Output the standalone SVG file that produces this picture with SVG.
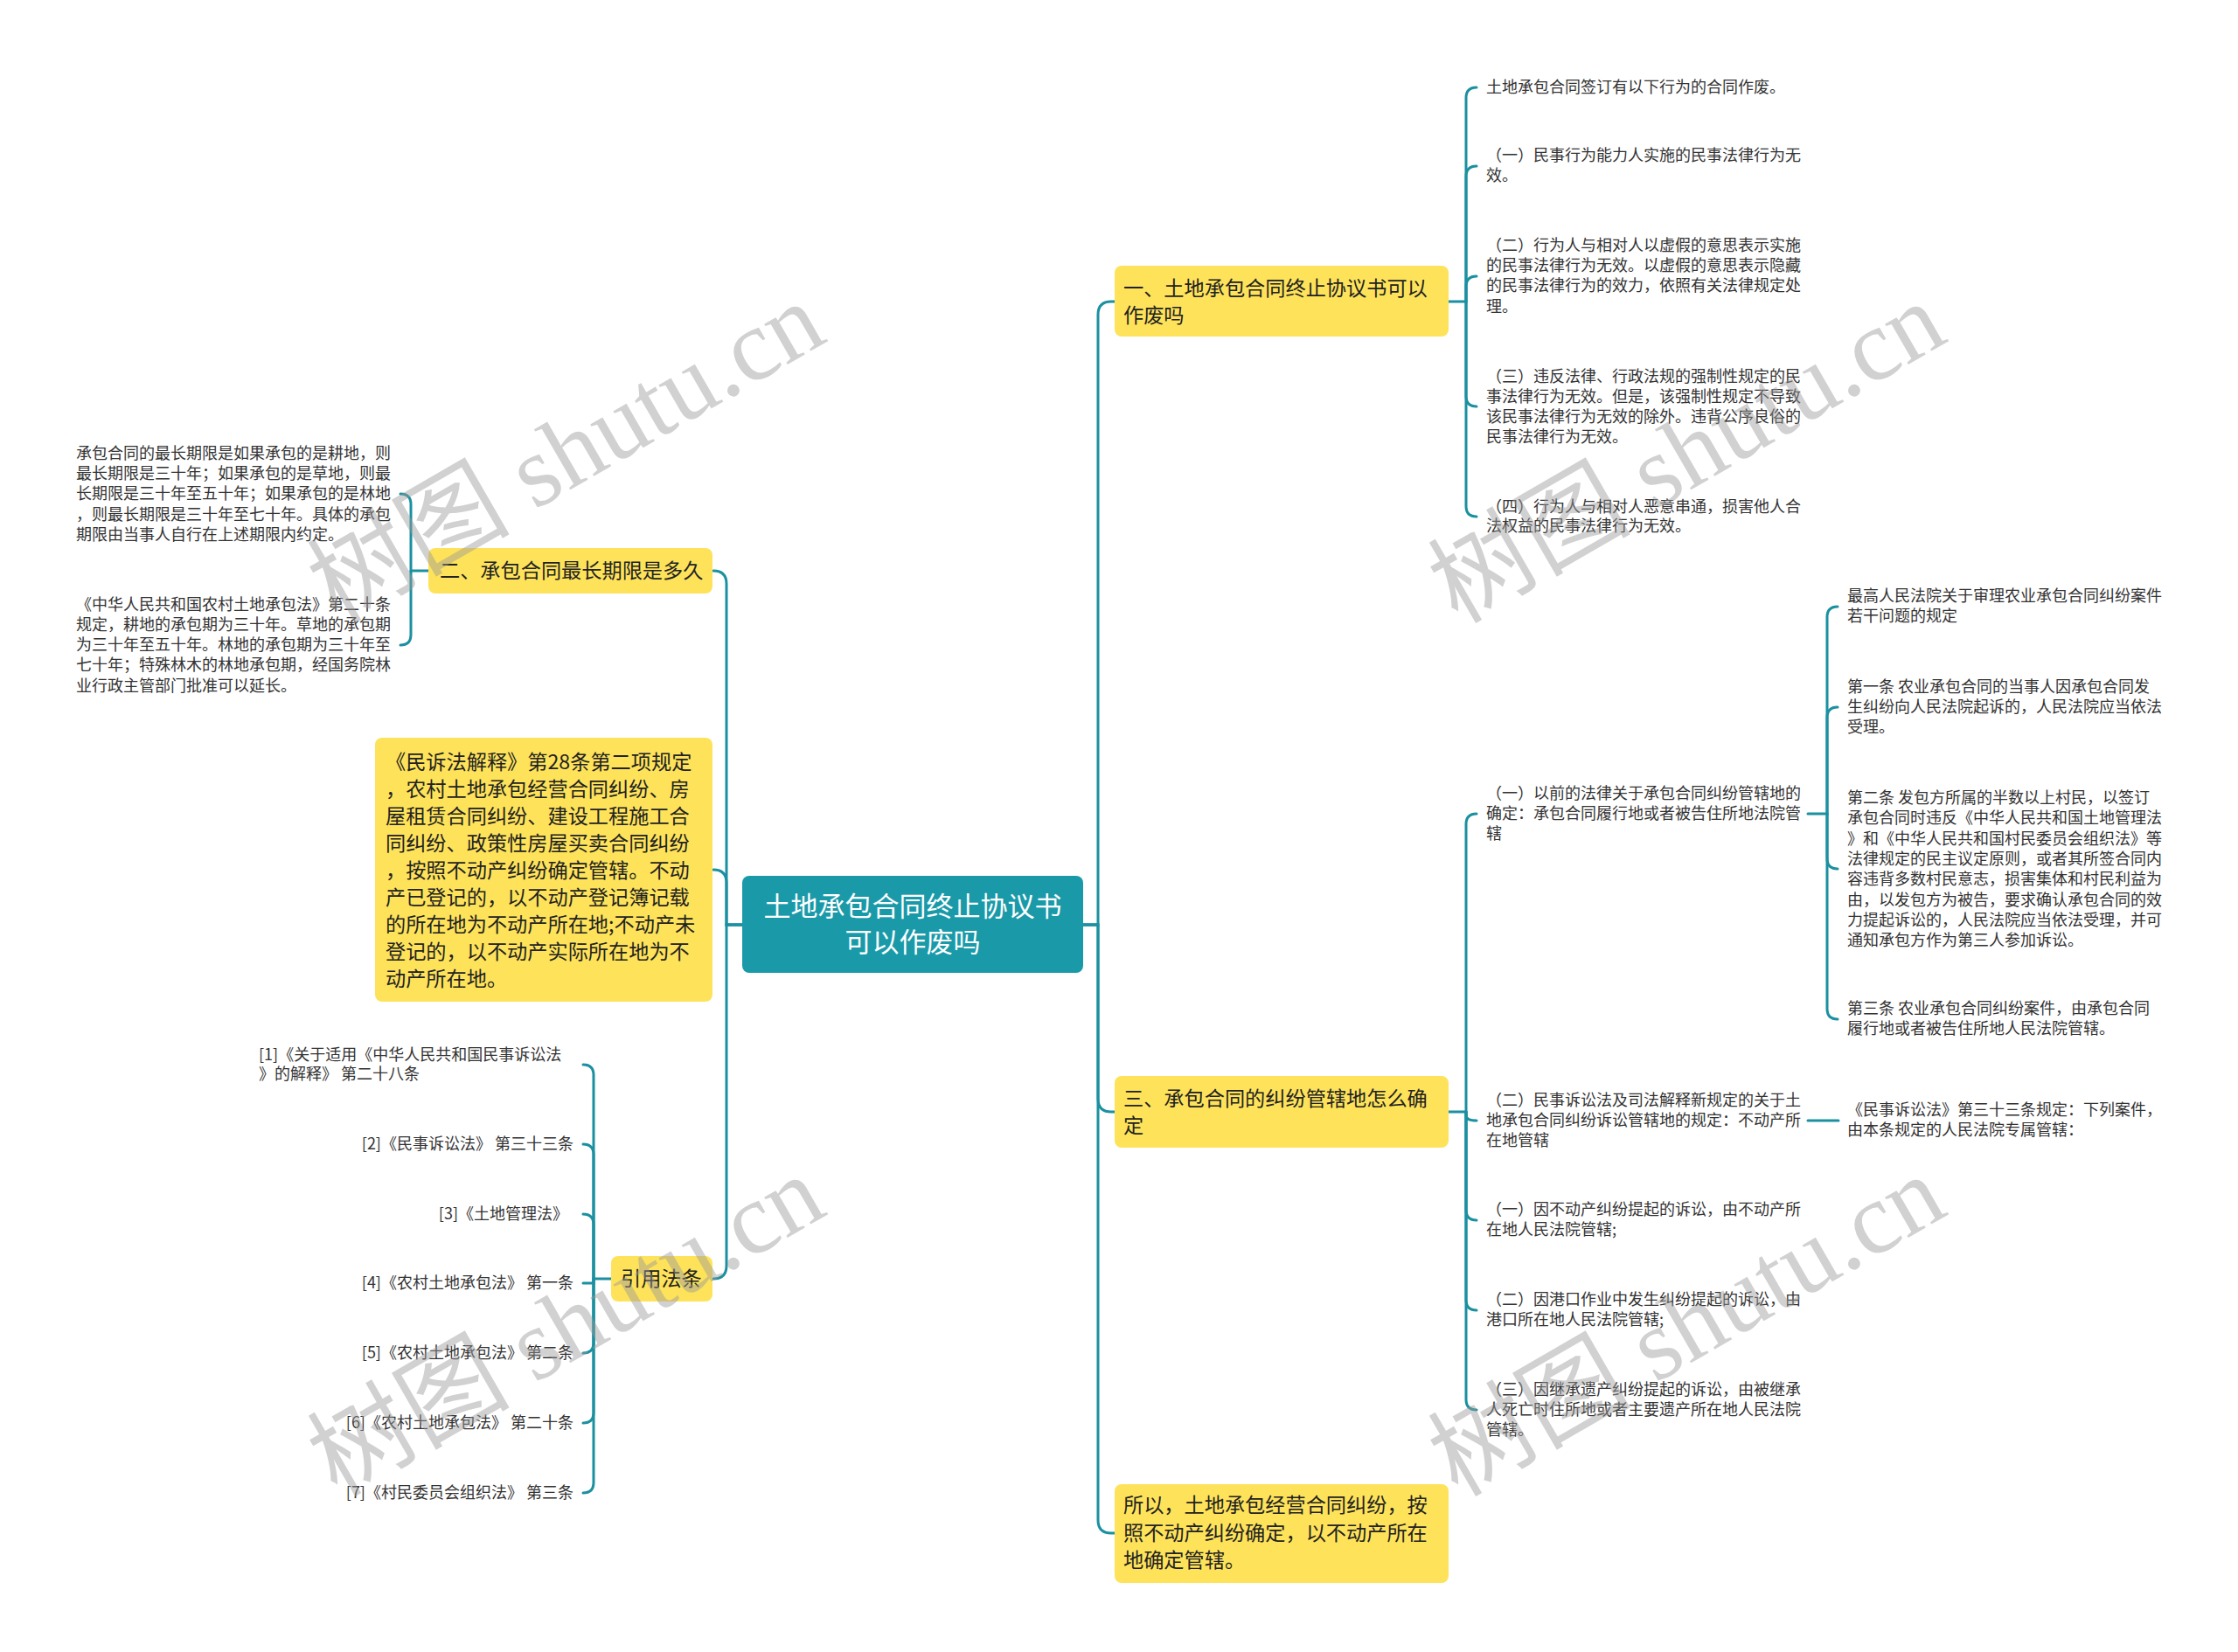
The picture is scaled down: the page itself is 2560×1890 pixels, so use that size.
<svg xmlns="http://www.w3.org/2000/svg" width="2560" height="1890" viewBox="0 0 2560 1890">
<style>
text{font-family:"Noto Sans CJK SC","Noto Sans",sans-serif}
.t{font-size:18px;fill:#333}
.m{font-size:23.2px;fill:#222}
.r{font-size:31px;fill:#fff}
.y{fill:#fee35a}
.root{fill:#1a9aa9}
.c{fill:none;stroke:#1b90a0;stroke-width:3;stroke-linecap:round}
.wm{font-family:"Liberation Serif","Noto Sans CJK SC",serif;font-size:116px;fill:#9a9a9a;opacity:0.45}
</style>
<rect width="2560" height="1890" fill="#fff"/>
<g id="connectors">
<path class="c" d="M1239,1058 H1256 V360 Q1256,345 1271,345 H1275"/>
<path class="c" d="M1239,1058 H1256 V1257 Q1256,1272 1271,1272 H1275"/>
<path class="c" d="M1239,1058 H1256 V1739 Q1256,1754 1271,1754 H1275"/>
<path class="c" d="M849,1058 H831 V668 Q831,653 816,653"/>
<path class="c" d="M849,1058 H831 V1010 Q831,995 816,995"/>
<path class="c" d="M849,1058 H831 V1448 Q831,1463 816,1463"/>
<path class="c" d="M1657,345 H1677 V112 Q1677,100 1689,100"/>
<path class="c" d="M1677,345 V202 Q1677,190 1689,190"/>
<path class="c" d="M1677,345 V328 Q1677,316 1689,316"/>
<path class="c" d="M1677,345 V453 Q1677,465 1689,465"/>
<path class="c" d="M1677,345 V579 Q1677,591 1689,591"/>
<path class="c" d="M1657,1272 H1677 V943 Q1677,931 1689,931"/>
<path class="c" d="M1677,1272 V1276 Q1677,1282 1689,1282"/>
<path class="c" d="M1677,1272 V1384 Q1677,1396 1689,1396"/>
<path class="c" d="M1677,1272 V1487 Q1677,1499 1689,1499"/>
<path class="c" d="M1677,1272 V1601 Q1677,1613 1689,1613"/>
<path class="c" d="M2068,931 H2090 V706 Q2090,694 2102,694"/>
<path class="c" d="M2090,931 V821 Q2090,809 2102,809"/>
<path class="c" d="M2090,931 V982 Q2090,994 2102,994"/>
<path class="c" d="M2090,931 V1154 Q2090,1166 2102,1166"/>
<path class="c" d="M2068,1282 H2103"/>
<path class="c" d="M490,653 H470 V577 Q470,565 458,565"/>
<path class="c" d="M470,653 V726 Q470,738 458,738"/>
<path class="c" d="M699,1463 H679 V1230 Q679,1218 667,1218"/>
<path class="c" d="M679,1463 V1321 Q679,1309 667,1309"/>
<path class="c" d="M679,1463 V1401 Q679,1389 667,1389"/>
<path class="c" d="M679,1463 V1468 H667"/>
<path class="c" d="M679,1463 V1536 Q679,1548 667,1548"/>
<path class="c" d="M679,1463 V1616 Q679,1628 667,1628"/>
<path class="c" d="M679,1463 V1696 Q679,1708 667,1708"/>
</g>
<g id="root">
<rect class="root" x="849" y="1002" width="390" height="111" rx="8"/>
<text class="r" text-anchor="middle"><tspan x="1044" y="1048">土地承包合同终止协议书</tspan><tspan x="1044" y="1089">可以作废吗</tspan></text>
</g>
<g id="n1">
<rect class="y" x="1275" y="304" width="382" height="81" rx="8"/>
<text class="m"><tspan x="1285" y="338">一、土地承包合同终止协议书可以</tspan><tspan x="1285" y="369">作废吗</tspan></text>
</g>
<g id="n1a"><text class="t"><tspan x="1700" y="106">土地承包合同签订有以下行为的合同作废。</tspan></text></g>
<g id="n1b"><text class="t"><tspan x="1700" y="184">（一）民事行为能力人实施的民事法律行为无</tspan><tspan x="1700" y="207">效。</tspan></text></g>
<g id="n1c"><text class="t"><tspan x="1700" y="287">（二）行为人与相对人以虚假的意思表示实施</tspan><tspan x="1700" y="310">的民事法律行为无效。以虚假的意思表示隐藏</tspan><tspan x="1700" y="333">的民事法律行为的效力，依照有关法律规定处</tspan><tspan x="1700" y="357">理。</tspan></text></g>
<g id="n1d"><text class="t"><tspan x="1700" y="437">（三）违反法律、行政法规的强制性规定的民</tspan><tspan x="1700" y="460">事法律行为无效。但是，该强制性规定不导致</tspan><tspan x="1700" y="483">该民事法律行为无效的除外。违背公序良俗的</tspan><tspan x="1700" y="506">民事法律行为无效。</tspan></text></g>
<g id="n1e"><text class="t"><tspan x="1700" y="586">（四）行为人与相对人恶意串通，损害他人合</tspan><tspan x="1700" y="608">法权益的民事法律行为无效。</tspan></text></g>
<g id="n3">
<rect class="y" x="1275" y="1231" width="382" height="82" rx="8"/>
<text class="m"><tspan x="1285" y="1265">三、承包合同的纠纷管辖地怎么确</tspan><tspan x="1285" y="1296">定</tspan></text>
</g>
<g id="n3a"><text class="t"><tspan x="1700" y="914">（一）以前的法律关于承包合同纠纷管辖地的</tspan><tspan x="1700" y="937">确定：承包合同履行地或者被告住所地法院管</tspan><tspan x="1700" y="960">辖</tspan></text></g>
<g id="n3a1"><text class="t"><tspan x="2113" y="688">最高人民法院关于审理农业承包合同纠纷案件</tspan><tspan x="2113" y="711">若干问题的规定</tspan></text></g>
<g id="n3a2"><text class="t"><tspan x="2113" y="792">第一条 农业承包合同的当事人因承包合同发</tspan><tspan x="2113" y="815">生纠纷向人民法院起诉的，人民法院应当依法</tspan><tspan x="2113" y="838">受理。</tspan></text></g>
<g id="n3a3"><text class="t"><tspan x="2113" y="919">第二条 发包方所属的半数以上村民，以签订</tspan><tspan x="2113" y="942">承包合同时违反《中华人民共和国土地管理法</tspan><tspan x="2113" y="966">》和《中华人民共和国村民委员会组织法》等</tspan><tspan x="2113" y="989">法律规定的民主议定原则，或者其所签合同内</tspan><tspan x="2113" y="1012">容违背多数村民意志，损害集体和村民利益为</tspan><tspan x="2113" y="1036">由，以发包方为被告，要求确认承包合同的效</tspan><tspan x="2113" y="1059">力提起诉讼的，人民法院应当依法受理，并可</tspan><tspan x="2113" y="1082">通知承包方作为第三人参加诉讼。</tspan></text></g>
<g id="n3a4"><text class="t"><tspan x="2113" y="1160">第三条 农业承包合同纠纷案件，由承包合同</tspan><tspan x="2113" y="1183">履行地或者被告住所地人民法院管辖。</tspan></text></g>
<g id="n3b"><text class="t"><tspan x="1700" y="1265">（二）民事诉讼法及司法解释新规定的关于土</tspan><tspan x="1700" y="1288">地承包合同纠纷诉讼管辖地的规定：不动产所</tspan><tspan x="1700" y="1311">在地管辖</tspan></text></g>
<g id="n3b1"><text class="t"><tspan x="2113" y="1276">《民事诉讼法》第三十三条规定：下列案件，</tspan><tspan x="2113" y="1299">由本条规定的人民法院专属管辖：</tspan></text></g>
<g id="n3c"><text class="t"><tspan x="1700" y="1390">（一）因不动产纠纷提起的诉讼，由不动产所</tspan><tspan x="1700" y="1413">在地人民法院管辖;</tspan></text></g>
<g id="n3d"><text class="t"><tspan x="1700" y="1493">（二）因港口作业中发生纠纷提起的诉讼，由</tspan><tspan x="1700" y="1516">港口所在地人民法院管辖;</tspan></text></g>
<g id="n3e"><text class="t"><tspan x="1700" y="1596">（三）因继承遗产纠纷提起的诉讼，由被继承</tspan><tspan x="1700" y="1619">人死亡时住所地或者主要遗产所在地人民法院</tspan><tspan x="1700" y="1642">管辖。</tspan></text></g>
<g id="n4">
<rect class="y" x="1275" y="1698" width="382" height="113" rx="8"/>
<text class="m"><tspan x="1285" y="1730">所以，土地承包经营合同纠纷，按</tspan><tspan x="1285" y="1762">照不动产纠纷确定，以不动产所在</tspan><tspan x="1285" y="1793">地确定管辖。</tspan></text>
</g>
<g id="n2">
<rect class="y" x="490" y="627" width="325" height="52" rx="8"/>
<text class="m"><tspan x="503" y="661">二、承包合同最长期限是多久</tspan></text>
</g>
<g id="n2a"><text class="t"><tspan x="87" y="525">承包合同的最长期限是如果承包的是耕地，则</tspan><tspan x="87" y="548">最长期限是三十年；如果承包的是草地，则最</tspan><tspan x="87" y="571">长期限是三十年至五十年；如果承包的是林地</tspan><tspan x="87" y="595">，则最长期限是三十年至七十年。具体的承包</tspan><tspan x="87" y="618">期限由当事人自行在上述期限内约定。</tspan></text></g>
<g id="n2b"><text class="t"><tspan x="87" y="698">《中华人民共和国农村土地承包法》第二十条</tspan><tspan x="87" y="721">规定，耕地的承包期为三十年。草地的承包期</tspan><tspan x="87" y="744">为三十年至五十年。林地的承包期为三十年至</tspan><tspan x="87" y="767">七十年；特殊林木的林地承包期，经国务院林</tspan><tspan x="87" y="791">业行政主管部门批准可以延长。</tspan></text></g>
<g id="n5">
<rect class="y" x="429" y="844" width="386" height="302" rx="8"/>
<text class="m"><tspan x="441" y="880">《民诉法解释》第28条第二项规定</tspan><tspan x="441" y="911">，农村土地承包经营合同纠纷、房</tspan><tspan x="441" y="942">屋租赁合同纠纷、建设工程施工合</tspan><tspan x="441" y="973">同纠纷、政策性房屋买卖合同纠纷</tspan><tspan x="441" y="1004">，按照不动产纠纷确定管辖。不动</tspan><tspan x="441" y="1035">产已登记的，以不动产登记簿记载</tspan><tspan x="441" y="1066">的所在地为不动产所在地;不动产未</tspan><tspan x="441" y="1097">登记的，以不动产实际所在地为不</tspan><tspan x="441" y="1128">动产所在地。</tspan></text>
</g>
<g id="n6">
<rect class="y" x="699" y="1437" width="116" height="52" rx="8"/>
<text class="m"><tspan x="710" y="1471">引用法条</tspan></text>
</g>
<g id="n6a"><text class="t"><tspan x="296" y="1213">[1]《关于适用《中华人民共和国民事诉讼法</tspan><tspan x="296" y="1235">》的解释》 第二十八条</tspan></text></g>
<g id="n6b"><text class="t" text-anchor="end" x="656" y="1315">[2]《民事诉讼法》 第三十三条</text></g>
<g id="n6c"><text class="t" text-anchor="end" x="650" y="1395">[3]《土地管理法》</text></g>
<g id="n6d"><text class="t" text-anchor="end" x="656" y="1474">[4]《农村土地承包法》 第一条</text></g>
<g id="n6e"><text class="t" text-anchor="end" x="656" y="1554">[5]《农村土地承包法》 第二条</text></g>
<g id="n6f"><text class="t" text-anchor="end" x="656" y="1634">[6]《农村土地承包法》 第二十条</text></g>
<g id="n6g"><text class="t" text-anchor="end" x="656" y="1714">[7]《村民委员会组织法》 第三条</text></g>
<g id="watermarks">
<text class="wm" text-anchor="middle" transform="translate(648,519) rotate(-30)" y="38">树图 shutu.cn</text>
<text class="wm" text-anchor="middle" transform="translate(1930,519) rotate(-30)" y="38">树图 shutu.cn</text>
<text class="wm" text-anchor="middle" transform="translate(648,1518) rotate(-30)" y="38">树图 shutu.cn</text>
<text class="wm" text-anchor="middle" transform="translate(1930,1518) rotate(-30)" y="38">树图 shutu.cn</text>
</g>
</svg>
